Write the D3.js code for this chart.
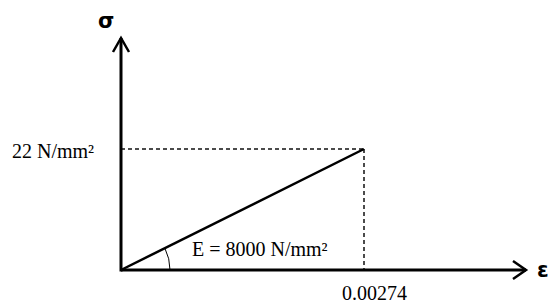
<!DOCTYPE html>
<html>
<head>
<meta charset="utf-8">
<script src="https://cdn.jsdelivr.net/npm/d3@7"></script>
<style>
  body { margin: 0; background: #fff; }
  svg { display: block; }
</style>
</head>
<body>
<script>
var width = 548,
    height = 303;

// the one elastic segment: strain vs stress
var strain = [0, 0.00274];
var stress = [0, 22];
var stressLabel = "22 N/mm\u00b2";
var strainLabel = "0.00274";
var modulusLabel = "E = 8000 N/mm\u00b2";

var ox = 121, oy = 270;

var x = d3.scaleLinear().domain([0, 0.00274]).range([ox, 364]);
var y = d3.scaleLinear().domain([0, 22]).range([oy, 149]);

var svg = d3.select("body").append("svg")
    .attr("width", width)
    .attr("height", height);

var serif = "'Liberation Serif', 'Times New Roman', serif";

// dashed guides to the end point
var px = x(strain[1]), py = y(stress[1]);
svg.append("line")
    .attr("x1", ox).attr("y1", py).attr("x2", px).attr("y2", py)
    .attr("stroke", "#111").attr("stroke-width", 1.5)
    .attr("stroke-dasharray", "4,3");
svg.append("line")
    .attr("x1", px).attr("y1", py).attr("x2", px).attr("y2", oy)
    .attr("stroke", "#111").attr("stroke-width", 1.5)
    .attr("stroke-dasharray", "4,3");

// axes with open arrowheads
var xEnd = 526, yEnd = 38;
svg.append("line")
    .attr("x1", ox).attr("y1", oy).attr("x2", xEnd).attr("y2", oy)
    .attr("stroke", "#000").attr("stroke-width", 3);
svg.append("line")
    .attr("x1", ox).attr("y1", oy + 1.5).attr("x2", ox).attr("y2", yEnd)
    .attr("stroke", "#000").attr("stroke-width", 3);
svg.append("path")
    .attr("d", "M" + (xEnd - 13) + "," + (oy - 9) + "L" + xEnd + "," + oy + "L" + (xEnd - 13) + "," + (oy + 9))
    .attr("fill", "none").attr("stroke", "#000").attr("stroke-width", 2.5);
svg.append("path")
    .attr("d", "M" + (ox - 8) + "," + (yEnd + 14) + "L" + ox + "," + yEnd + "L" + (ox + 8) + "," + (yEnd + 14))
    .attr("fill", "none").attr("stroke", "#000").attr("stroke-width", 2.5);

// stress-strain line
var line = d3.line()
    .x(function (d, i) { return x(strain[i]); })
    .y(function (d) { return y(d); });
svg.append("path")
    .datum(stress)
    .attr("d", line)
    .attr("fill", "none")
    .attr("stroke", "#000")
    .attr("stroke-width", 2.5);

// angle arc at origin
var ang = Math.atan2(oy - py, px - ox);
var r = 49;
svg.append("path")
    .attr("d", "M" + (ox + r) + "," + oy + " A" + r + "," + r + " 0 0 0 " +
        (ox + r * Math.cos(ang)) + "," + (oy - r * Math.sin(ang)))
    .attr("fill", "none").attr("stroke", "#000").attr("stroke-width", 1);

// labels
svg.append("text")
    .attr("x", 12).attr("y", py + 9)
    .style("font-family", serif).style("font-size", "20px")
    .text(stressLabel);
svg.append("text")
    .attr("x", 342).attr("y", 300)
    .style("font-family", serif).style("font-size", "20px")
    .text(strainLabel);
svg.append("text")
    .attr("x", 192).attr("y", 256)
    .style("font-family", serif).style("font-size", "20px")
    .text(modulusLabel);
svg.append("text")
    .attr("x", 98).attr("y", 28)
    .style("font-family", "'DejaVu Sans', sans-serif").style("font-size", "21px")
    .style("font-weight", "bold")
    .text("\u03c3");
svg.append("text")
    .attr("x", 537).attr("y", 277)
    .style("font-family", "'DejaVu Sans', sans-serif").style("font-size", "21px")
    .style("font-weight", "bold")
    .text("\u03b5");
</script>
</body>
</html>
